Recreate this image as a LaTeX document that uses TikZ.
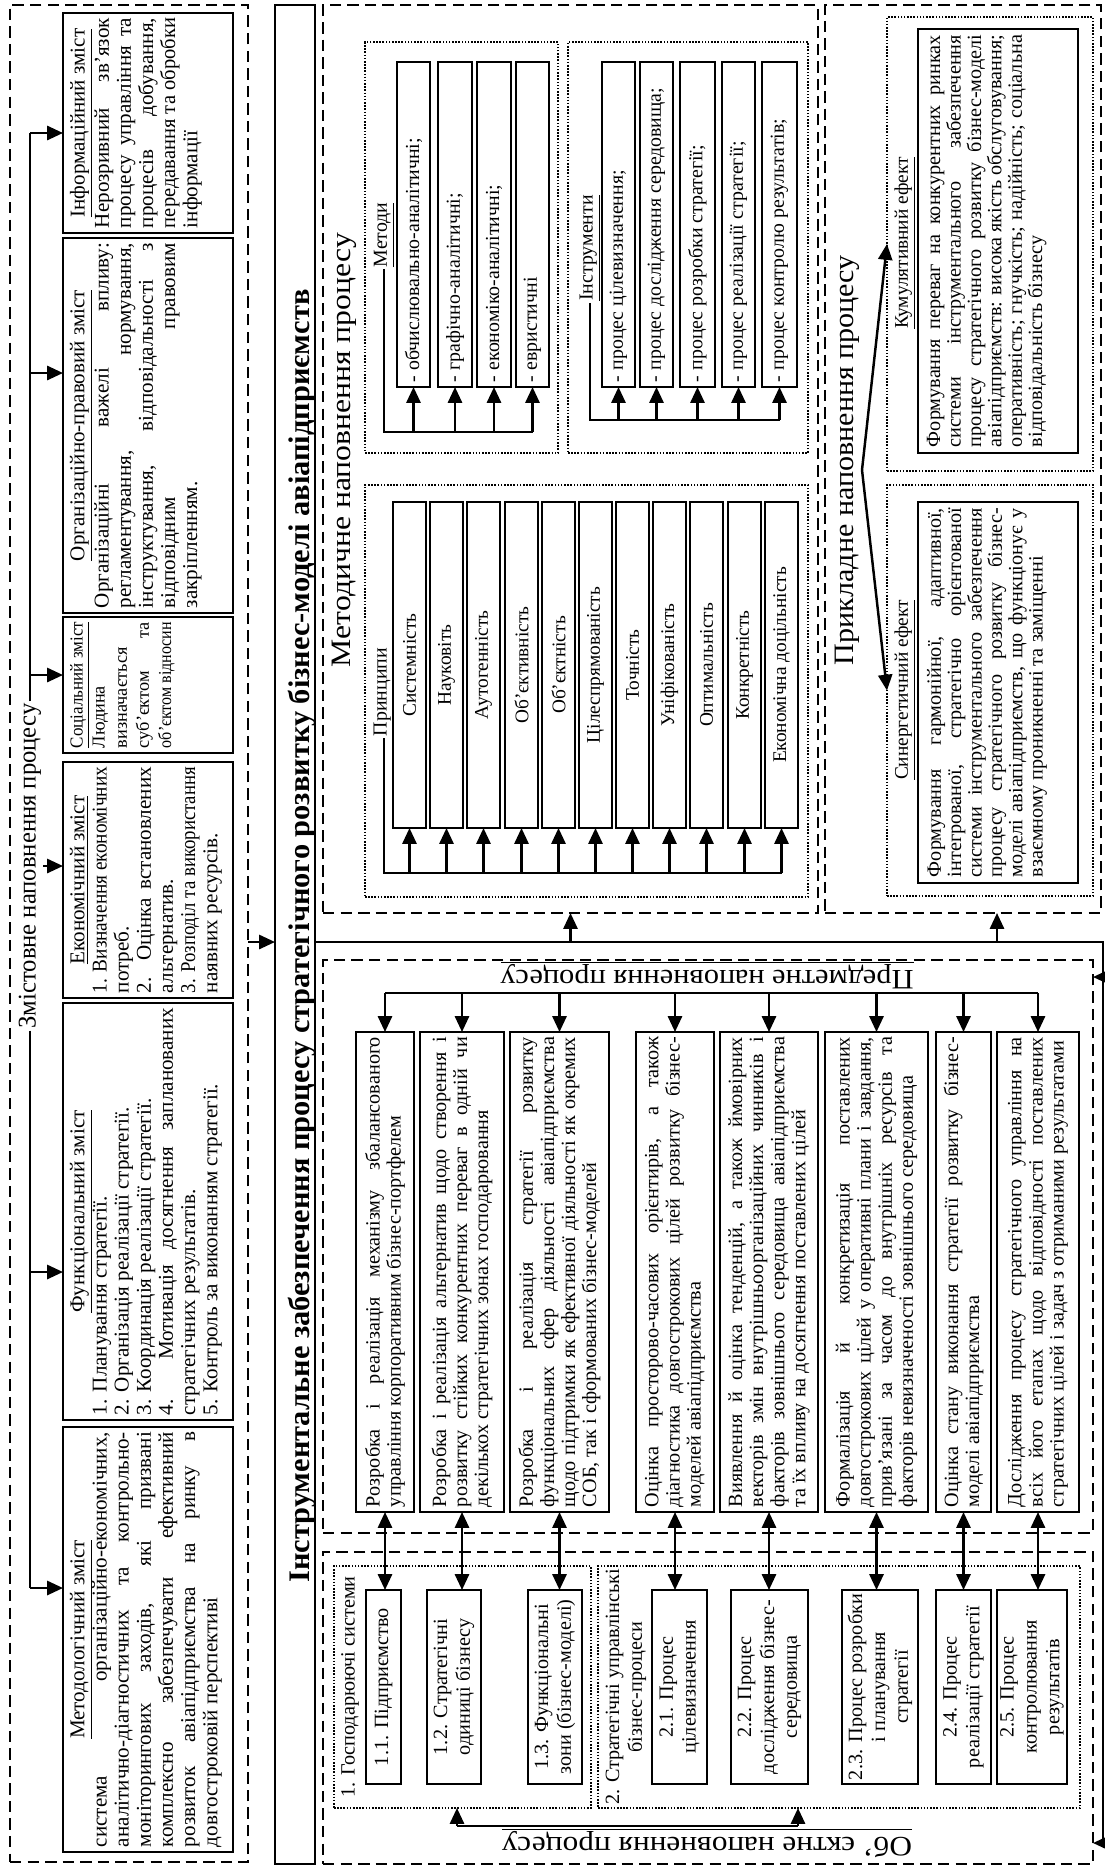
\documentclass[tikz,border=0pt]{standalone}
\usepackage{fontspec}
\setmainfont{Liberation Serif}
\usepackage{graphicx}
\usetikzlibrary{arrows.meta}
\newdimen\pxu \pxu=0.02cm
\newcommand{\jln}[1]{\setbox0=\hbox{#1}\ifdim\wd0>\linewidth\hbox to\linewidth{\resizebox{\linewidth}{\height}{\box0}}\else\hbox to\linewidth{#1}\fi}
\newcommand{\rln}[1]{\setbox0=\hbox{#1}\ifdim\wd0>\linewidth\hbox to\linewidth{\resizebox{\linewidth}{\height}{\box0}}\else\hbox to\linewidth{\box0\hfil}\fi}
\newcommand{\cln}[1]{\setbox0=\hbox{#1}\ifdim\wd0>\linewidth\hbox to\linewidth{\resizebox{\linewidth}{\height}{\box0}}\else\hbox to\linewidth{\hfil\box0\hfil}\fi}
\def\tbpx{5}\def\tbpy{5}\def\tbfont{\fontsize{10.5}{11.9}\selectfont}
\newcommand{\TB}[8][]{%
  \pgfmathsetlengthmacro\tbA{(#6-#4)*\pxu}%
  \pgfmathsetlengthmacro\tbB{(#5-#3)*\pxu}%
  \pgfmathsetlengthmacro\tbTW{(#6-#4-2*\tbpx)*\pxu}%
  \pgfmathsetlengthmacro\tbTH{(#5-#3-2*\tbpy)*\pxu}%
  \node[tb, minimum width=\tbA, minimum height=\tbB, #1] (#2) at ({(#3+#5)/2},{(#4+#6)/2}) {\parbox[c][\tbTH][#7]{\tbTW}{\tbfont #8}};}
\newcommand{\RR}[6][]{%
  \pgfmathsetlengthmacro\rrW{(#5-#3)*\pxu}%
  \pgfmathsetlengthmacro\rrH{(#6-#4)*\pxu}%
  \node[rr, minimum width=\rrW, minimum height=\rrH, #1] (#2) at ({(#3+#5)/2},{(#4+#6)/2}) {};}
\tikzset{
  dsh/.style={draw, line width=1.1pt, dash pattern=on 6.5pt off 3.5pt},
  dtt/.style={draw, line width=1.2pt, dash pattern=on 0.9pt off 0.9pt},
  rr/.style={inner sep=0pt, outer sep=0pt},
  tb/.style={draw, line width=0.75pt, rotate=90, inner sep=0pt, outer sep=0pt},
  conn/.style={line width=1.4pt},
  arr/.style={line width=1.4pt, -{Triangle[length=9pt,width=8pt]}},
  darr/.style={line width=1.4pt, {Triangle[length=9pt,width=8pt]}-{Triangle[length=9pt,width=8pt]}},
  lbl/.style={rotate=90, inner sep=1pt},
  sml/.style={font=\fontsize{11.3}{13}\selectfont},
}
\begin{document}
\begin{tikzpicture}[x=0.02cm, y=-0.02cm]
\fill[white] (0,0) rectangle (1105,1867);
\useasboundingbox (0,0) rectangle (1105,1867);

% ---------- Section A: content ----------
\RR[dsh]{A}{10}{5}{248}{1862}
\def\tbpx{5}\def\tbpy{7}\def\tbfont{\fontsize{12}{12.6}\selectfont}
\TB{A1}{63}{13}{233}{233}{t}{\cln{\underline{Інформаційний зміст}}\jln{Нерозривний зв’язок}\jln{процесу управління та}\jln{процесів добування,}\jln{передавання та обробки}\rln{інформації}}
\TB{A2}{63}{238}{233}{613}{t}{\cln{\underline{Організаційно-правовий зміст}}\jln{Організаційні важелі впливу:}\jln{регламентування, нормування,}\jln{інструктування, відповідальності з}\jln{відповідним правовим}\rln{закріпленням.}}
\def\tbfont{\fontsize{10.4}{12.6}\selectfont}
\TB{A3}{63}{617}{233}{753}{t}{\cln{\underline{Соціальний зміст}}\rln{Людина}\rln{визначається}\jln{суб’єктом та}\rln{об’єктом відносин}}
\def\tbfont{\fontsize{12}{12.6}\selectfont}
\TB{A4}{63}{762}{233}{998}{t}{\cln{\underline{Економічний зміст}}\jln{1. Визначення економічних}\rln{потреб.}\jln{2. Оцінка встановлених}\rln{альтернатив.}\jln{3. Розподіл та використання}\rln{наявних ресурсів.}}
\TB{A5}{63}{1003}{233}{1420}{t}{\cln{\underline{Функціональний зміст}}\rln{1. Планування стратегії.}\rln{2. Організація реалізації стратегії.}\rln{3. Координація реалізації стратегії.}\jln{4. Мотивація досягнення запланованих}\rln{стратегічних результатів.}\rln{5. Контроль за виконанням стратегії.}}
\TB{A6}{63}{1427}{233}{1852}{t}{\cln{\underline{Методологічний зміст}}\jln{система організаційно-економічних,}\jln{аналітично-діагностичних та контрольно-}\jln{моніторингових заходів, які призвані}\jln{комплексно забезпечувати ефективний}\jln{розвиток авіапідприємства на ринку в}\rln{довгостроковій перспективі}}
\node[lbl] (ZL) at (30,866) {\resizebox{325\pxu}{\height}{\fontsize{14.5}{16}\selectfont Змістовне наповнення процесу}};
\coordinate (z1) at (30,133);
\coordinate (z2) at (30,373);
\coordinate (z3) at (30,675);
\coordinate (z5) at (30,1272);
\coordinate (z6) at (30,1588);
\draw[conn] (ZL.east) -- (z1);
\draw[conn] (ZL.west) -- (z6);
\foreach \z/\b in {z1/A1, z2/A2, z3/A3, z5/A5, z6/A6} \draw[arr] (\z) -- (\z -| \b.north);
\draw[arr] (ZL.south) -- (ZL.south -| A4.north);

% ---------- Title ----------
\RR[draw, line width=0.8pt]{T}{275}{5}{315}{1864}
\node[lbl, anchor=base] (TT) at (309,936) {\resizebox{1293\pxu}{\height}{\bfseries\fontsize{17}{20}\selectfont Інструментальне забезпечення процесу стратегічного розвитку бізнес-моделі авіапідприємств}};

% ---------- Methodical ----------
\RR[dsh]{M}{323}{5}{818}{913}
\node[lbl] (ML) at (344,450) {\resizebox{434\pxu}{\height}{\fontsize{16}{18}\selectfont Методичне наповнення процесу}};
\RR[dtt]{MD}{365}{42}{558}{453}
\RR[dtt]{ID}{568}{42}{808}{453}
\RR[dtt]{PD}{365}{485}{808}{897}
\def\tbpx{5}\def\tbpy{2}\def\tbfont{\fontsize{11.3}{13}\selectfont}
\TB{m1}{397}{62}{430}{387}{c}{\rln{- обчислювально-аналітичні;}}
\TB{m2}{438}{62}{472}{387}{c}{\rln{- графічно-аналітичні;}}
\TB{m3}{477}{62}{511}{387}{c}{\rln{- економіко-аналітичні;}}
\TB{m4}{516}{62}{549}{387}{c}{\rln{- евристичні}}
\TB{i1}{602}{62}{635}{387}{c}{\rln{- процес цілевизначення;}}
\TB{i2}{640}{62}{673}{387}{c}{\rln{- процес дослідження середовища;}}
\TB{i3}{680}{62}{715}{387}{c}{\rln{- процес розробки стратегії;}}
\TB{i4}{722}{62}{755}{387}{c}{\rln{- процес реалізації стратегії;}}
\TB{i5}{762}{62}{797}{387}{c}{\rln{- процес контролю результатів;}}
\def\tbfont{\fontsize{11}{13}\selectfont}
\TB{r1}{393}{502}{426}{828}{c}{\cln{Системність}}
\TB{r2}{430}{502}{463}{828}{c}{\cln{Науковіть}}
\TB{r3}{467}{502}{500}{828}{c}{\cln{Аутогенність}}
\TB{r4}{505}{502}{538}{828}{c}{\cln{Об’єктивність}}
\TB{r5}{542}{502}{575}{828}{c}{\cln{Об’єктність}}
\TB{r6}{579}{502}{612}{828}{c}{\cln{Цілеспрямованість}}
\TB{r7}{616}{502}{649}{828}{c}{\cln{Точність}}
\TB{r8}{653}{502}{686}{828}{c}{\cln{Уніфікованість}}
\TB{r9}{690}{502}{723}{828}{c}{\cln{Оптимальність}}
\TB{r10}{728}{502}{761}{828}{c}{\cln{Конкретність}}
\TB{r11}{765}{502}{798}{828}{c}{\cln{Економічна доцільність}}
\node[lbl, sml] (hM) at (384,235) {\underline{Методи}};
\node[lbl, sml] (hI) at (590,248) {\underline{Інструменти}};
\node[lbl, sml] (hP) at (384,692) {\underline{Принципи}};
\coordinate (mbus) at (382,432);
\coordinate (ibus) at (592,420);
\coordinate (rbus) at (382,873);
\draw[conn] (hM.west) -- (hM.west |- mbus) -- (m4.west |- mbus);
\foreach \i in {1,...,4} \draw[arr] (m\i.west |- mbus) -- (m\i.west);
\draw[conn] (hI.west) -- (hI.west |- ibus) -- (i5.west |- ibus);
\foreach \i in {1,...,5} \draw[arr] (i\i.west |- ibus) -- (i\i.west);
\draw[conn] (hP.west) -- (hP.west |- rbus) -- (r11.west |- rbus);
\foreach \i in {1,...,11} \draw[arr] (r\i.west |- rbus) -- (r\i.west);

% ---------- Applied ----------
\RR[dsh]{K}{825}{5}{1101}{913}
\node[lbl] (KL) at (847,460) {\resizebox{410\pxu}{\height}{\fontsize{16}{18}\selectfont Прикладне наповнення процесу}};
\RR[dtt]{KD}{887}{17}{1093}{471}
\RR[dtt]{SD}{887}{485}{1093}{896}
\def\tbpx{6}\def\tbpy{9}\def\tbfont{\fontsize{11.5}{11.6}\selectfont}
\TB{KB}{918}{29}{1078}{453}{t}{\jln{Формування переваг на конкурентних ринках}\jln{системи інструментального забезпечення}\jln{процесу стратегічного розвитку бізнес-моделі}\jln{авіапідприємств: висока якість обслуговування;}\jln{оперативність; гнучкість; надійність; соціальна}\rln{відповідальність бізнесу}}
\TB{SB}{918}{502}{1078}{883}{t}{\jln{Формування гармонійної, адаптивної,}\jln{інтегрованої, стратегічно орієнтованої}\jln{системи інструментального забезпечення}\jln{процесу стратегічного розвитку бізнес-}\jln{моделі авіапідприємств, що функціонує у}\rln{взаємному проникненні та заміщенні}}
\node[lbl, font=\fontsize{11}{12}\selectfont] (hK) at (905,243) {\underline{Кумулятивний ефект}};
\node[lbl, font=\fontsize{11}{12}\selectfont] (hS) at (905,690) {\underline{Синергетичний ефект}};
\coordinate (kv) at (862,470);
\draw[arr] (kv) -- (KD.west);
\draw[arr] (kv) -- (SD.west);

% ---------- Subject ----------
\RR[dsh]{Pd}{323}{960}{1093}{1533}
\node[rotate=180, inner sep=1pt] (PL) at (707,975) {\resizebox{413\pxu}{\height}{\fontsize{16}{18}\selectfont\underline{Предметне наповнення процесу}}};
\def\tbpx{5}\def\tbpy{3}\def\tbfont{\fontsize{11.5}{12}\selectfont}
\TB{p1}{356}{1032}{414}{1512}{c}{\jln{Розробка і реалізація механізму збалансованого}\rln{управління корпоративним бізнес-портфелем}}
\TB{p2}{420}{1032}{504}{1512}{c}{\jln{Розробка і реалізація альтернатив щодо створення і}\jln{розвитку стійких конкурентних переваг в одній чи}\rln{декількох стратегічних зонах господарювання}}
\TB{p3}{510}{1032}{609}{1512}{c}{\jln{Розробка і реалізація стратегії розвитку}\jln{функціональних сфер діяльності авіапідприємства}\jln{щодо підтримки як ефективної діяльності як окремих}\rln{СОБ, так і сформованих бізнес-моделей}}
\TB{p4}{636}{1032}{714}{1512}{c}{\jln{Оцінка просторово-часових орієнтирів, а також}\jln{діагностика довгострокових цілей розвитку бізнес-}\rln{моделей авіапідприємства}}
\TB{p5}{720}{1032}{818}{1512}{c}{\jln{Виявлення й оцінка тенденцій, а також ймовірних}\jln{векторів змін внутрішньоорганізаційних чинників і}\jln{факторів зовнішнього середовища авіапідприємства}\rln{та їх впливу на досягнення поставлених цілей}}
\TB{p6}{825}{1032}{928}{1512}{c}{\jln{Формалізація й конкретизація поставлених}\jln{довгострокових цілей у оперативні плани і завдання,}\jln{прив’язані за часом до внутрішніх ресурсів та}\rln{факторів невизначеності зовнішнього середовища}}
\TB{p7}{936}{1032}{991}{1512}{c}{\jln{Оцінка стану виконання стратегії розвитку бізнес-}\rln{моделі авіапідприємства}}
\TB{p8}{997}{1032}{1079}{1512}{c}{\jln{Дослідження процесу стратегічного управління на}\jln{всіх його етапах щодо відповідності поставлених}\rln{стратегічних цілей і задач з отриманими результатами}}
\coordinate (pbus) at (0,993);
\draw[conn] (p1.east |- pbus) -- (p8.east |- pbus);
\foreach \i in {1,...,8} \draw[arr] (p\i.east |- pbus) -- (p\i.east);

% ---------- Object ----------
\RR[dsh]{Od}{323}{1552}{1093}{1864}
\RR[dtt]{D1}{334}{1566}{591}{1808}
\RR[dtt]{D2}{598}{1566}{1080}{1808}
\def\tbpx{4}\def\tbpy{1}\def\tbfont{\fontsize{11.5}{13}\selectfont}
\TB{o11}{366}{1590}{401}{1784}{c}{\cln{1.1. Підприємство}}
\TB{o12}{427}{1590}{481}{1784}{c}{\cln{1.2. Стратегічні}\cln{одиниці бізнесу}}
\TB{o13}{528}{1590}{582}{1784}{c}{\cln{1.3. Функціональні}\cln{зони (бізнес-моделі)}}
\TB{o21}{652}{1590}{707}{1784}{c}{\cln{2.1. Процес}\cln{цілевизначення}}
\TB{o22}{731}{1590}{808}{1784}{c}{\cln{2.2. Процес}\cln{дослідження бізнес-}\cln{середовища}}
\TB{o23}{842}{1590}{918}{1784}{c}{\jln{2.3. Процес розробки}\cln{і планування}\cln{стратегії}}
\TB{o24}{936}{1590}{991}{1784}{c}{\cln{2.4. Процес}\cln{реалізації стратегії}}
\TB{o25}{997}{1590}{1067}{1784}{c}{\cln{2.5. Процес}\cln{контролювання}\cln{результатів}}
\node[lbl, font=\fontsize{11.5}{13}\selectfont] (h1) at (350,1687) {1. Господарюючі системи};
\node[lbl, align=center, font=\fontsize{11.5}{13}\selectfont] (h2) at (626,1687) {2. Стратегічні управлінські\\бізнес-процеси};
\node[rotate=180, inner sep=1pt] (OL) at (707,1843) {\resizebox{410\pxu}{\height}{\fontsize{16}{18}\selectfont\underline{Об’ єктне наповнення процесу}}};
\coordinate (ob1) at (457,1826);
\coordinate (ob2) at (798,1826);
\draw[conn] (ob1) -- (ob2);
\draw[arr] (ob1) -- (ob1 |- D1.south);
\draw[arr] (ob2) -- (ob2 |- D2.south);
\foreach \i/\j in {p1/o11, p2/o12, p3/o13, p4/o21, p5/o22, p6/o23, p7/o24, p8/o25}
  \draw[darr] (\i.west) -- (\i.west |- \j.east);

% ---------- Main flow ----------
\coordinate (lv) at (0,942);
\coordinate (mR) at (1103,942);
\coordinate (mP) at (1103,977);
\coordinate (mB) at (1103,1843);
\coordinate (kA) at (997,942);
\draw[arr] (A.east |- lv) -- (T.west |- lv);
\draw[conn] (T.east |- lv) -- (mR) -- (mB);
\draw[arr] (M.south |- lv) -- (M.south);
\draw[arr] (kA) -- (kA |- K.south);
\draw[arr] (mP) -- (mP -| Pd.east);
\draw[arr] (mB) -- (mB -| Od.east);
\end{tikzpicture}
\end{document}
